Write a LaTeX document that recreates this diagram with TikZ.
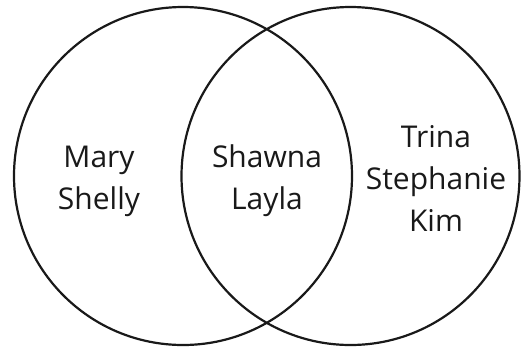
\documentclass[tikz,border=0pt]{standalone}
\usepackage{fontspec}
\setmainfont{Open Sans}
\begin{document}
\begin{tikzpicture}[x=1pt,y=-1pt,
  setcircle/.style={circle,draw=black!90,line width=2.2pt,minimum size=338pt,inner sep=0pt},
  label/.style={align=center,font=\fontsize{30}{42}\selectfont,text=black!90,anchor=base,inner sep=0pt}]
\useasboundingbox (0,0) rectangle (522,346);
\node[setcircle] (A) at (183,176) {};
\node[setcircle] (B) at (350.5,176) {};
\node[label] (left) at (99,209) {Mary\\Shelly};
\node[label] (mid) at (267,209) {Shawna\\Layla};
\node[label] (right) at (436,231) {Trina\\Stephanie\\Kim};
\end{tikzpicture}
\end{document}
